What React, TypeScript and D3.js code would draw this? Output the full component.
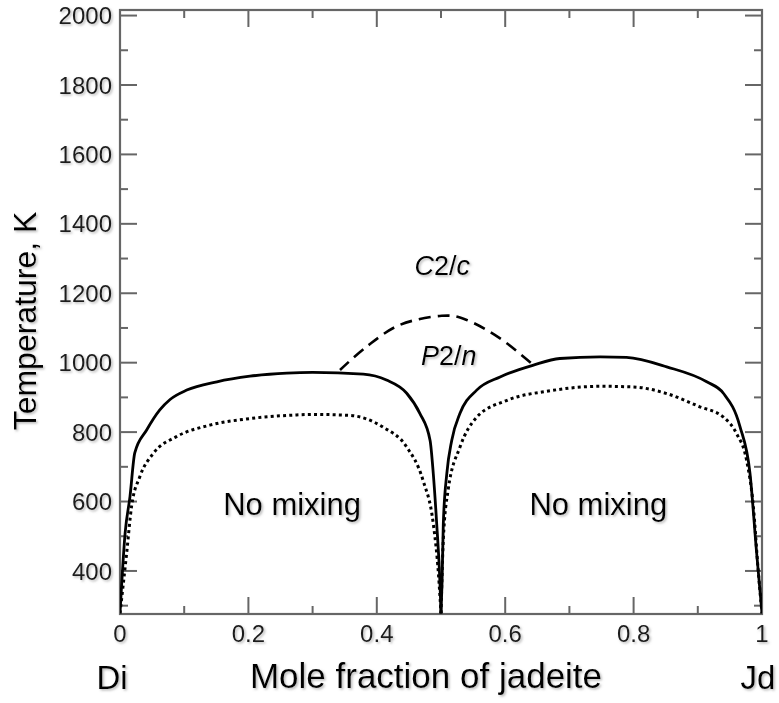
import React from 'react';
import * as d3 from 'd3';

// phase boundaries: [mole fraction jadeite, T (K)]
const solidLeft: [number, number][] = [
  [0, 278], [0.008, 510], [0.0156, 615], [0.023, 740], [0.0415, 806], [0.062, 864],
  [0.078, 894], [0.104, 921], [0.151, 945], [0.2025, 961], [0.26, 970], [0.3, 972],
  [0.379, 967], [0.415, 950], [0.4466, 912], [0.467, 854], [0.483, 776], [0.488, 680],
  [0.4933, 536], [0.4984, 365], [0.5, 278],
];
const solidRight: [number, number][] = [
  [0.5, 278], [0.5016, 365], [0.5036, 536], [0.509, 680], [0.5167, 776], [0.5296, 854],
  [0.5556, 921], [0.592, 959], [0.644, 993], [0.685, 1012], [0.748, 1017], [0.789, 1015],
  [0.8516, 988], [0.9139, 945], [0.9398, 912], [0.9657, 816], [0.9813, 681], [0.9917, 451],
  [1, 278],
];
const dottedLeft: [number, number][] = [
  [0, 278], [0.0104, 452], [0.018, 586], [0.031, 672], [0.052, 739], [0.088, 787],
  [0.14, 820], [0.2025, 839], [0.27, 849], [0.3, 851], [0.358, 848], [0.41, 814],
  [0.4466, 757], [0.472, 661], [0.488, 536], [0.496, 392], [0.5, 278],
];
const dottedRight: [number, number][] = [
  [0.5, 278], [0.5036, 490], [0.511, 632], [0.5296, 757], [0.5556, 843], [0.602, 891],
  [0.67, 919], [0.748, 932], [0.8, 930], [0.8516, 911], [0.903, 873], [0.94, 843],
  [0.9606, 795], [0.976, 719], [0.9865, 586], [0.994, 403], [1, 278],
];
const dashedTop: [number, number][] = [
  [0.3427, 979], [0.384, 1046], [0.436, 1109], [0.501, 1135], [0.54, 1123],
  [0.592, 1070], [0.644, 993],
];

const xMajor = [0, 0.2, 0.4, 0.6, 0.8, 1];
const xMinor = [0.1, 0.3, 0.5, 0.7, 0.9];
const yMajor = [400, 600, 800, 1000, 1200, 1400, 1600, 1800, 2000];
const yMinor = [300, 500, 700, 900, 1100, 1300, 1500, 1700, 1900];

const W = 779, H = 703;
const left = 120, right = 762, top = 10, bottom = 614;
const font = "'Liberation Sans', Arial, Helvetica, sans-serif";

export default function App() {
  const x = d3.scaleLinear().domain([0, 1]).range([left, right]);
  const y = d3.scaleLinear().domain([276, 2016]).range([bottom, top]);
  const line = d3.line<[number, number]>()
    .x(d => x(d[0]))
    .y(d => y(d[1]))
    .curve(d3.curveMonotoneX);
  const dashLine = d3.line<[number, number]>()
    .x(d => x(d[0]))
    .y(d => y(d[1]))
    .curve(d3.curveCardinal);

  const axisColor = '#666';
  const major = 17, minor = 8;

  return (
    <svg width={W} height={H} style={{ position: 'absolute', left: 0, top: 0, background: '#fff' }}>
      <defs>
        <filter id="shadow" x="-10%" y="-10%" width="130%" height="140%">
          <feDropShadow dx="1.5" dy="1.5" stdDeviation="1" floodColor="#888" floodOpacity="0.6" />
        </filter>
        <clipPath id="plot">
          <rect x={left} y={top} width={right - left} height={bottom - top} />
        </clipPath>
      </defs>

      {/* ticks, mirrored inward on all four sides */}
      <g stroke={axisColor} strokeWidth={2}>
        {yMajor.map(v => (
          <g key={'ym' + v}>
            <line x1={left} x2={left + major} y1={y(v)} y2={y(v)} />
            <line x1={right} x2={right - major} y1={y(v)} y2={y(v)} />
          </g>
        ))}
        {yMinor.map(v => (
          <g key={'yn' + v}>
            <line x1={left} x2={left + minor} y1={y(v)} y2={y(v)} />
            <line x1={right} x2={right - minor} y1={y(v)} y2={y(v)} />
          </g>
        ))}
        {xMajor.map(v => (
          <g key={'xm' + v}>
            <line x1={x(v)} x2={x(v)} y1={bottom} y2={bottom - major} />
            <line x1={x(v)} x2={x(v)} y1={top} y2={top + major} />
          </g>
        ))}
        {xMinor.map(v => (
          <g key={'xn' + v}>
            <line x1={x(v)} x2={x(v)} y1={bottom} y2={bottom - minor} />
            <line x1={x(v)} x2={x(v)} y1={top} y2={top + minor} />
          </g>
        ))}
      </g>
      <rect x={left} y={top} width={right - left} height={bottom - top}
        fill="none" stroke={axisColor} strokeWidth={2.2} />

      {/* tick labels */}
      <g fontFamily={font} fontSize={24} fill="#1a1a1a" filter="url(#shadow)">
        {yMajor.map(v => (
          <text key={'yl' + v} x={left - 8} y={y(v)} dy="0.36em" textAnchor="end">{v}</text>
        ))}
        {xMajor.map(v => (
          <text key={'xl' + v} x={x(v)} y={642} textAnchor="middle">{v === 0 || v === 1 ? v : v.toFixed(1)}</text>
        ))}
      </g>

      {/* curves */}
      <g clipPath="url(#plot)" fill="none" stroke="#000">
        <path d={line(dottedLeft) || ''} strokeWidth={3} strokeDasharray="3,3.2" />
        <path d={line(dottedRight) || ''} strokeWidth={3} strokeDasharray="3,3.2" />
        <path d={dashLine(dashedTop) || ''} strokeWidth={2.6} strokeDasharray="12,7" />
        <path d={line(solidLeft) || ''} strokeWidth={2.8} strokeLinejoin="round" />
        <path d={line(solidRight) || ''} strokeWidth={2.8} strokeLinejoin="round" />
      </g>

      {/* annotations */}
      <g fontFamily={font} fill="#000" filter="url(#shadow)">
        <text x={x(0.502)} y={275} fontSize={27} textAnchor="middle">
          <tspan fontStyle="italic">C</tspan>2/<tspan fontStyle="italic">c</tspan>
        </text>
        <text x={x(0.512)} y={365} fontSize={27} textAnchor="middle">
          <tspan fontStyle="italic">P</tspan>2/<tspan fontStyle="italic">n</tspan>
        </text>
        <text x={x(0.268)} y={515} fontSize={31} textAnchor="middle">No mixing</text>
        <text x={x(0.745)} y={515} fontSize={31} textAnchor="middle">No mixing</text>

        <text x={112} y={689} fontSize={33} textAnchor="middle">Di</text>
        <text x={758} y={689} fontSize={33} textAnchor="middle">Jd</text>
        <text x={426} y={688} fontSize={35} textAnchor="middle">Mole fraction of jadeite</text>
        <text transform="translate(36,321) rotate(-90)" fontSize={32} textAnchor="middle">Temperature, K</text>
      </g>
    </svg>
  );
}
